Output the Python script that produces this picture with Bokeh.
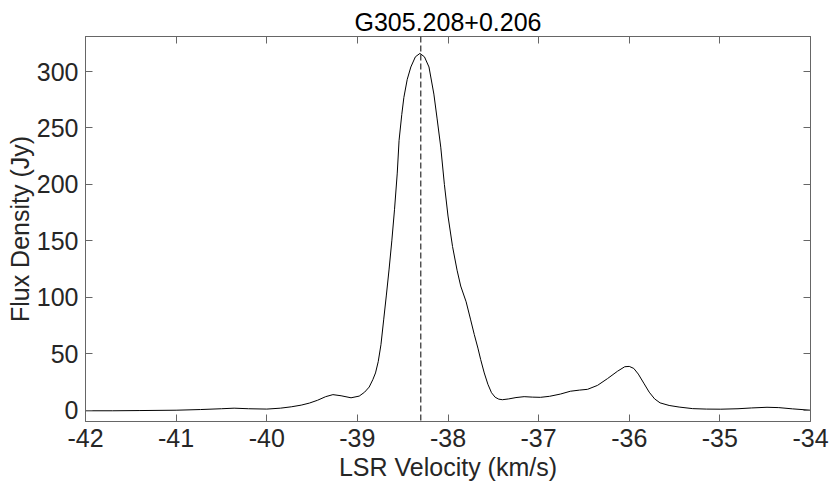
from bokeh.plotting import figure
from bokeh.models import LinearAxis, FixedTicker, Span, ColumnDataSource
from bokeh.embed import file_html
from bokeh.resources import INLINE

title_text = "G305.208+0.206"
x_label = "LSR Velocity (km/s)"
y_label = "Flux Density (Jy)"

x_ticks = [-42, -41, -40, -39, -38, -37, -36, -35, -34]
x_tick_labels = ["-42", "-41", "-40", "-39", "-38", "-37", "-36", "-35", "-34"]
y_ticks = [0, 50, 100, 150, 200, 250, 300]
y_tick_labels = ["0", "50", "100", "150", "200", "250", "300"]

peak_velocity = -38.30

velocity = [
    -42.00, -41.70, -41.40, -41.00, -40.73, -40.50, -40.36, -40.20, -40.00, -39.85,
    -39.73, -39.62, -39.53, -39.44, -39.35, -39.27, -39.18, -39.07, -38.98, -38.92,
    -38.87, -38.83, -38.80, -38.77, -38.74, -38.71, -38.68, -38.65, -38.62, -38.59,
    -38.56, -38.54, -38.51, -38.487, -38.45, -38.41, -38.36, -38.31, -38.26, -38.21,
    -38.156, -38.12, -38.08, -38.04, -38.00, -37.95, -37.90, -37.86, -37.80, -37.75,
    -37.71, -37.67, -37.64, -37.60, -37.56, -37.52, -37.48, -37.44, -37.40, -37.33,
    -37.25, -37.16, -37.07, -36.98, -36.88, -36.76, -36.65, -36.55, -36.46, -36.35,
    -36.24, -36.13, -36.05, -36.00, -35.95, -35.90, -35.84, -35.78, -35.72, -35.66,
    -35.56, -35.45, -35.30, -35.15, -34.99, -34.80, -34.65, -34.48, -34.35, -34.20,
    -34.00,
]
flux = [
    -0.5, -0.5, -0.3, 0.0, 0.6, 1.3, 1.8, 1.3, 1.0, 1.8,
    3.0, 4.5, 6.3, 8.8, 12.0, 13.8, 12.8, 11.0, 12.5, 16.0,
    20.5, 27.0, 33.0, 43.0, 58.0, 80.0, 102.0, 125.0, 150.0, 178.0,
    210.0, 239.0, 262.0, 277.0, 293.0, 304.0, 313.0, 316.0, 313.0, 304.0,
    280.0, 258.0, 233.0, 200.0, 172.0, 145.0, 124.0, 110.0, 96.0, 80.0,
    67.0, 55.0, 45.0, 33.0, 23.0, 15.5, 11.5, 9.8, 9.3, 10.0,
    11.2, 12.0, 11.6, 11.4, 12.3, 14.3, 16.8, 17.8, 18.5, 22.0,
    28.0, 34.5, 38.5, 38.8, 37.0, 32.0, 24.0, 16.0, 10.0, 6.5,
    4.2, 2.8, 1.4, 1.0, 0.9, 1.3, 2.0, 2.6, 2.3, 1.2,
    0.0,
]

FONT = "Liberation Sans"
AX_COLOR = "#666666"
TXT_COLOR = "#262626"

p = figure(width=830, height=483, x_range=(-42, -34), y_range=(-10, 331),
           output_backend="svg", toolbar_location=None, title=title_text,
           x_axis_label=x_label, y_axis_label=y_label)
p.min_border_left = 85
p.min_border_right = 20
p.min_border_top = 36
p.min_border_bottom = 60
p.background_fill_color = "white"
p.border_fill_color = "white"
p.outline_line_color = AX_COLOR
p.outline_line_width = 1
p.xgrid.visible = False
p.ygrid.visible = False

p.title.text_font = FONT
p.title.text_font_size = "25px"
p.title.text_font_style = "normal"
p.title.text_color = "#000000"
p.title.align = "center"
p.title.standoff = 2

src = ColumnDataSource(data=dict(v=velocity, f=flux))
p.line("v", "f", source=src, line_color="black", line_width=1)

p.add_layout(Span(location=peak_velocity, dimension="height", line_color="black",
                  line_width=1, line_dash="6 3"))


def style_axis(ax, ticks, labels, show_labels=True):
    ax.ticker = FixedTicker(ticks=ticks)
    ax.major_label_overrides = {t: l for t, l in zip(ticks, labels)}
    ax.minor_tick_line_color = None
    ax.major_tick_in = 7
    ax.major_tick_out = 0
    ax.major_tick_line_color = AX_COLOR
    ax.axis_line_color = AX_COLOR
    ax.axis_line_width = 1
    ax.major_label_text_font = FONT
    ax.major_label_text_color = TXT_COLOR
    ax.axis_label_text_font = FONT
    ax.axis_label_text_font_style = "normal"
    ax.axis_label_text_color = TXT_COLOR
    ax.axis_label_text_font_size = "25px"
    if show_labels:
        ax.major_label_text_font_size = "25px"
    else:
        ax.major_label_text_font_size = "0px"
        ax.major_label_standoff = 0


xa = p.xaxis[0]
style_axis(xa, x_ticks, x_tick_labels)
xa.major_label_standoff = 7
xa.axis_label_standoff = 3

ya = p.yaxis[0]
style_axis(ya, y_ticks, y_tick_labels)
ya.major_label_standoff = 7
ya.axis_label_standoff = 0

top_ax = LinearAxis()
style_axis(top_ax, x_ticks, ["" for _ in x_ticks], show_labels=False)
p.add_layout(top_ax, "above")

right_ax = LinearAxis()
style_axis(right_ax, y_ticks, ["" for _ in y_ticks], show_labels=False)
p.add_layout(right_ax, "right")

open("out.html", "w").write(file_html(p, INLINE))
